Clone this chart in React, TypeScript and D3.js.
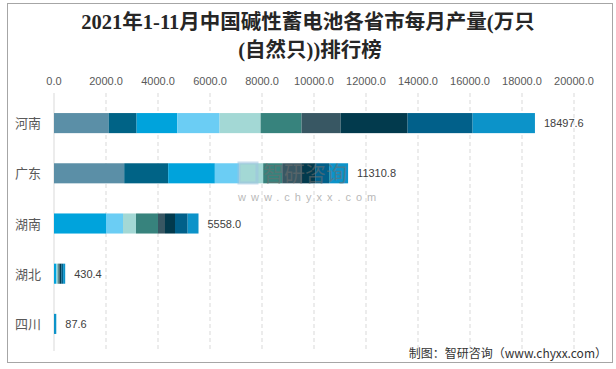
import React from "react";
import * as d3 from "d3";

const provinces = ["河南", "广东", "湖南", "湖北", "四川"];
const totals = [18497.6, 11310.8, 5558.0, 430.4, 87.6];
const months = ["1-2月", "3月", "4月", "5月", "6月", "7月", "8月", "9月", "10月", "11月"];
// values per month (rows) for each province (columns order as provinces)
const m1_2 = [2100, 2700, 0, 0, 0];
const m3 = [1077, 1692, 0, 0, 0];
const m4 = [1564, 1795, 2000, 80, 0];
const m5 = [1628, 935, 654, 30, 0];
const m6 = [1577, 923, 500, 30, 0];
const m7 = [1577, 731, 846, 40, 0];
const m8 = [1500, 731, 269, 40, 0];
const m9 = [2577, 538, 385, 60, 0];
const m10 = [2500, 538, 487, 70, 0];
const m11 = [2397.6, 727.8, 417, 80.4, 87.6];
const monthValues = [m1_2, m3, m4, m5, m6, m7, m8, m9, m10, m11];
const colors = ["#5B8FA7", "#006386", "#00A3DC", "#6BCDF4", "#A3D8D5", "#37837D", "#385763", "#023A4D", "#01608A", "#0C93C9"];
const ticks = [0, 2000, 4000, 6000, 8000, 10000, 12000, 14000, 16000, 18000, 20000];

export default function App() {
  const W = 616, H = 369;
  const x = d3.scaleLinear().domain([0, 20000]).range([54, 574]);
  const y = d3.scaleBand().domain(provinces).range([98, 349]).paddingInner(0.6).paddingOuter(0.3);
  const rows = provinces.map((p, i) => {
    const r: any = { p };
    months.forEach((m, j) => (r[m] = monthValues[j][i]));
    return r;
  });
  const series = d3.stack().keys(months)(rows);
  const font = "'Liberation Sans', 'Noto Sans CJK SC', sans-serif";
  const titleFont = "'Liberation Serif', 'Noto Sans CJK SC', serif";
  return (
    <svg width={W} height={H} style={{ position: "absolute", left: 0, top: 0, background: "#fff" }}>
      <rect x={7.5} y={3.5} width={605} height={359} fill="#fff" stroke="#a6a6a6" strokeWidth={1} />
      <text x={308} y={29} textAnchor="middle" fontSize={20.5} fontWeight="bold" fill="#262626" fontFamily={titleFont}>2021年1-11月中国碱性蓄电池各省市每月产量(万只</text>
      <text x={310} y={57} textAnchor="middle" fontSize={20.5} fontWeight="bold" fill="#262626" fontFamily={titleFont}>(自然只))排行榜</text>
      {ticks.map((t) => (
        <g key={t}>
          <text x={x(t)} y={85} textAnchor="middle" fontSize={11} fill="#595959" fontFamily={font}>{t.toFixed(1)}</text>
          {t > 0 && <line x1={x(t)} x2={x(t)} y1={93} y2={351} stroke="#d9d9d9" strokeDasharray="4,3" />}
        </g>
      ))}
      <line x1={x(0)} x2={x(0)} y1={93} y2={351} stroke="#d9d9d9" strokeWidth={1} />
      {series.map((s, si) => (
        <g key={si} fill={colors[si]}>
          {s.map((d: any, i) => (
            d[1] - d[0] > 0 ? <rect key={i} x={x(d[0])} y={y(provinces[i])} width={x(d[1]) - x(d[0])} height={y.bandwidth()} /> : null
          ))}
        </g>
      ))}
      {provinces.map((p, i) => (
        <g key={p}>
          <text x={41} y={(y(p) as number) + y.bandwidth() / 2 + 5} textAnchor="end" fontSize={13} fill="#595959" fontFamily={font}>{p}</text>
          <text x={x(totals[i]) + 9} y={(y(p) as number) + y.bandwidth() / 2 + 4} fontSize={11} fill="#404040" fontFamily={font}>{totals[i].toFixed(1)}</text>
        </g>
      ))}
      <g opacity={0.55} fontFamily={font}>
        <text x={263} y={181} fontSize={21} fill="#6f6f6f">智研咨询</text>
        <text x={238} y={201} fontSize={11} fill="#7f7f7f" letterSpacing={5}>www.chyxx.com</text>
        <rect x={239} y={163} width={18} height={20} fill="none" stroke="#9cc3e0" strokeWidth={3} />
      </g>
      <text x={607} y={358} textAnchor="end" fontSize={12} fill="#333" fontFamily="'Noto Sans CJK SC', sans-serif">制图：智研咨询（www.chyxx.com）</text>
    </svg>
  );
}
